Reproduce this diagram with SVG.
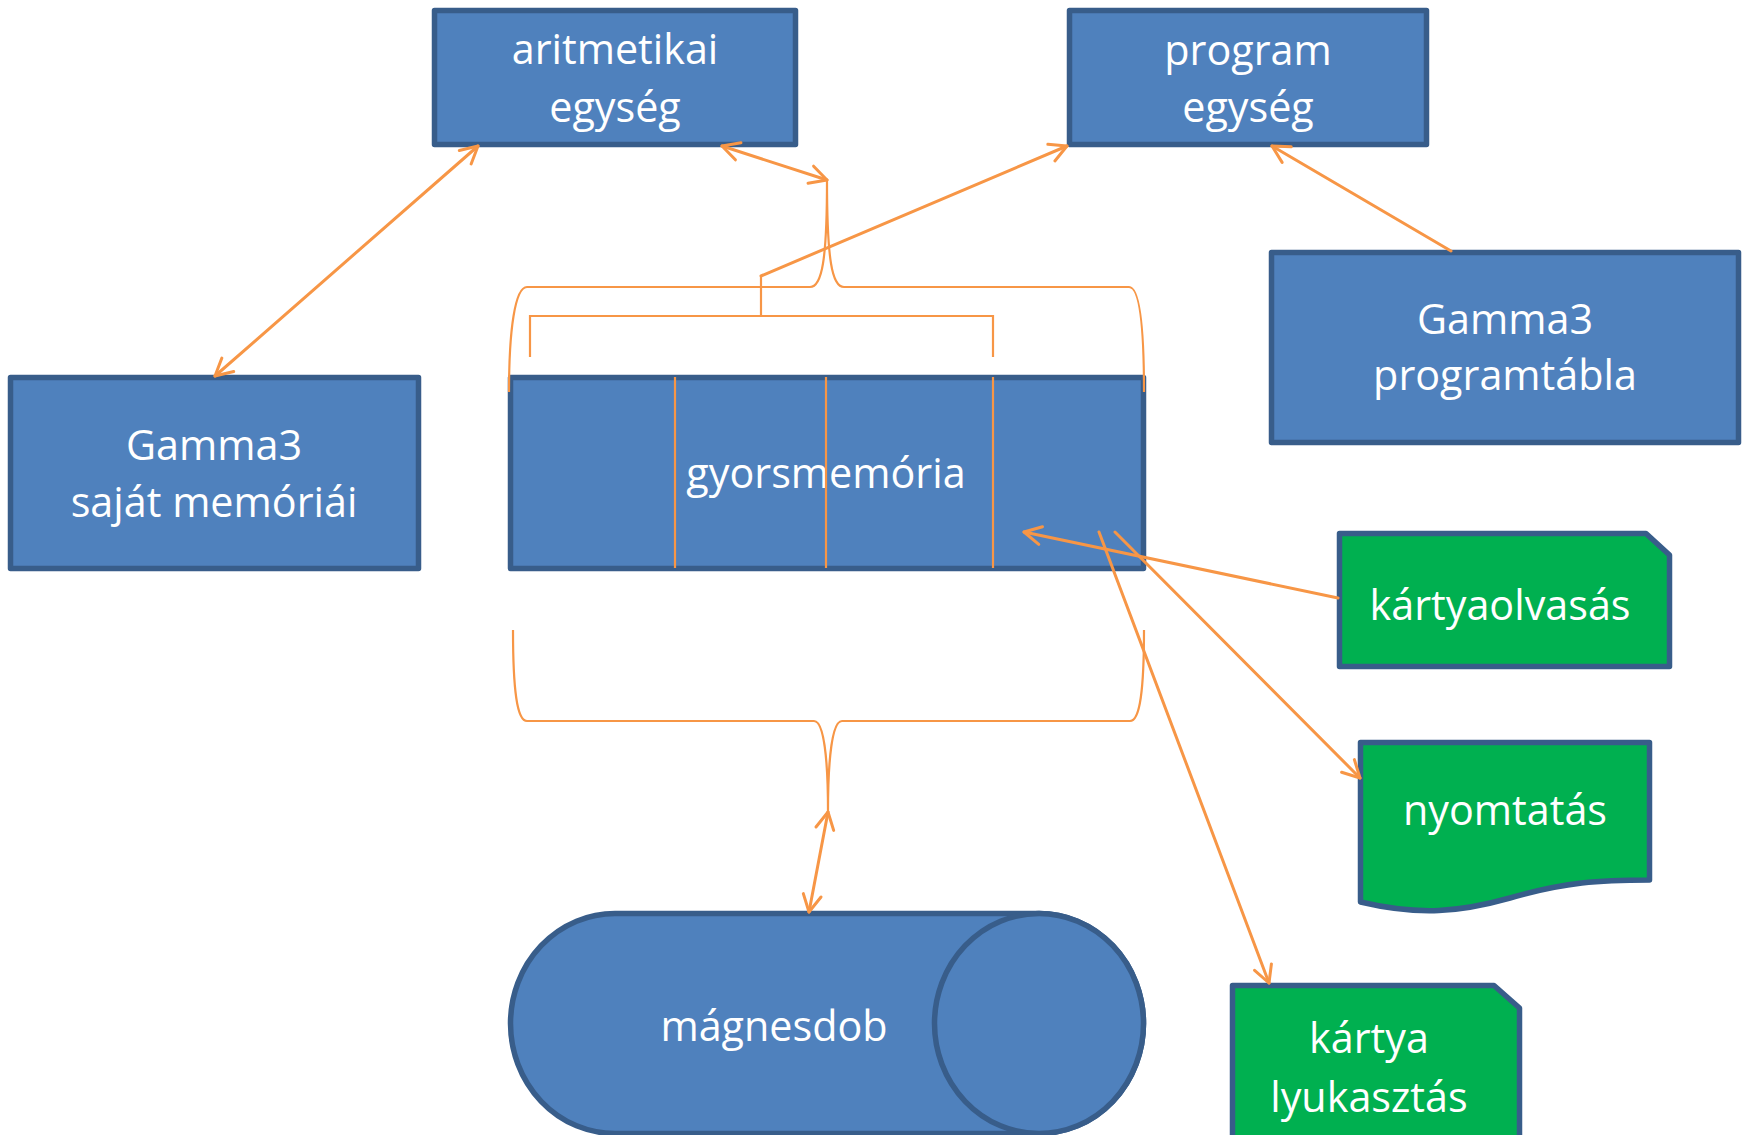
<svg xmlns="http://www.w3.org/2000/svg" width="1748" height="1135" viewBox="0 0 1748 1135">
<defs>
<style>
.box{fill:#4F81BD;stroke:#385D8A;stroke-width:5.5;stroke-linejoin:round}
.green{fill:#00B050;stroke:#385D8A;stroke-width:5.5;stroke-linejoin:round}
.t{font-family:"Open Sans","Noto Sans",sans-serif;font-size:41.3px;fill:#FFFFFF;text-anchor:middle}
.arr{fill:none;stroke:#F79646;stroke-width:3;stroke-linecap:round}
.brace{fill:none;stroke:#F79646;stroke-width:2.2}
</style>
<marker id="ah" markerUnits="userSpaceOnUse" viewBox="-20 -12 24 24" refX="0" refY="0" markerWidth="24" markerHeight="24" orient="auto-start-reverse">
<path d="M-17,-9 L0,0 L-17,9" fill="none" stroke="#F79646" stroke-width="3" stroke-linecap="round" stroke-linejoin="round"/>
</marker>
</defs>
<rect width="1748" height="1135" fill="#FFFFFF"/>
<g id="aritmetikai">
<rect class="box" x="434.5" y="10.5" width="361" height="134"/>
<text class="t" x="615" y="64">aritmetikai</text>
<text class="t" x="615" y="122">egység</text>
</g>
<g id="program">
<rect class="box" x="1069.5" y="10.5" width="357" height="134"/>
<text class="t" x="1248" y="65">program</text>
<text class="t" x="1248" y="122">egység</text>
</g>
<g id="programtabla">
<rect class="box" x="1271.5" y="252.5" width="467" height="190"/>
<text class="t" x="1505" y="334">Gamma3</text>
<text class="t" x="1505" y="390">programtábla</text>
</g>
<g id="sajat">
<rect class="box" x="10.5" y="377.5" width="408" height="191"/>
<text class="t" x="214" y="460">Gamma3</text>
<text class="t" x="214" y="517">saját memóriái</text>
</g>
<g id="gyorsmemoria">
<rect class="box" x="510.5" y="377.5" width="633" height="191"/>
<text class="t" x="826" y="488">gyorsmemória</text>
</g>
<g id="kartyaolvasas">
<path class="green" d="M1339.5,533.5 L1646,533.5 L1669.5,555 L1669.5,666.5 L1339.5,666.5 Z"/>
<text class="t" x="1500" y="620">kártyaolvasás</text>
</g>
<g id="nyomtatas">
<path class="green" d="M1360.5,742.5 L1649.5,742.5 L1649.5,880 C1600,880 1565,882 1510,898 C1460,912 1420,916 1360.5,902 Z"/>
<text class="t" x="1505" y="825">nyomtatás</text>
</g>
<g id="lyukasztas">
<path class="green" d="M1232.5,985.5 L1494,985.5 L1519.5,1008 L1519.5,1160 L1232.5,1160 Z"/>
<text class="t" x="1369" y="1053">kártya</text>
<text class="t" x="1369" y="1112">lyukasztás</text>
</g>
<g id="magnesdob">
<path class="box" d="M615,913.5 L1039,913.5 A104.5,110 0 0 1 1039,1133.5 L615,1133.5 A104.5,110 0 0 1 615,913.5 Z"/>
<ellipse class="box" cx="1039" cy="1023.5" rx="104.5" ry="110"/>
<text class="t" x="774" y="1041">mágnesdob</text>
</g>
<g id="connectors">
<line class="brace" x1="675" y1="377" x2="675" y2="568"/>
<line class="brace" x1="826" y1="377" x2="826" y2="568"/>
<line class="brace" x1="993" y1="377" x2="993" y2="568"/>
<path class="brace" d="M509,392 C509,330 515,287 527,287 L810,287 C822,287 827,260 827,180 C827,260 832,287 844,287 L1129,287 C1140,287 1144,330 1144,392"/>
<path class="brace" d="M513,630 C513,690 517,721 527,721 L814,721 C824,721 828,760 828,812 C828,760 832,721 842,721 L1130,721 C1140,721 1144,690 1144,630"/>
<path class="brace" d="M530,357 L530,316 L993,316 L993,357 M761,316 L761,276"/>
<line class="arr" x1="761" y1="276" x2="1067" y2="146" marker-end="url(#ah)"/>
<line class="arr" x1="478" y1="146" x2="215" y2="376" marker-start="url(#ah)" marker-end="url(#ah)"/>
<line class="arr" x1="722" y1="146" x2="827" y2="180" marker-start="url(#ah)" marker-end="url(#ah)"/>
<line class="arr" x1="1451" y1="251" x2="1272" y2="146" marker-end="url(#ah)"/>
<line class="arr" x1="828" y1="812" x2="809" y2="912" marker-start="url(#ah)" marker-end="url(#ah)"/>
<line class="arr" x1="1338" y1="598" x2="1024" y2="532" marker-end="url(#ah)"/>
<line class="arr" x1="1115" y1="532" x2="1360" y2="778" marker-end="url(#ah)"/>
<line class="arr" x1="1099" y1="532" x2="1269" y2="983" marker-end="url(#ah)"/>
</g>
</svg>
